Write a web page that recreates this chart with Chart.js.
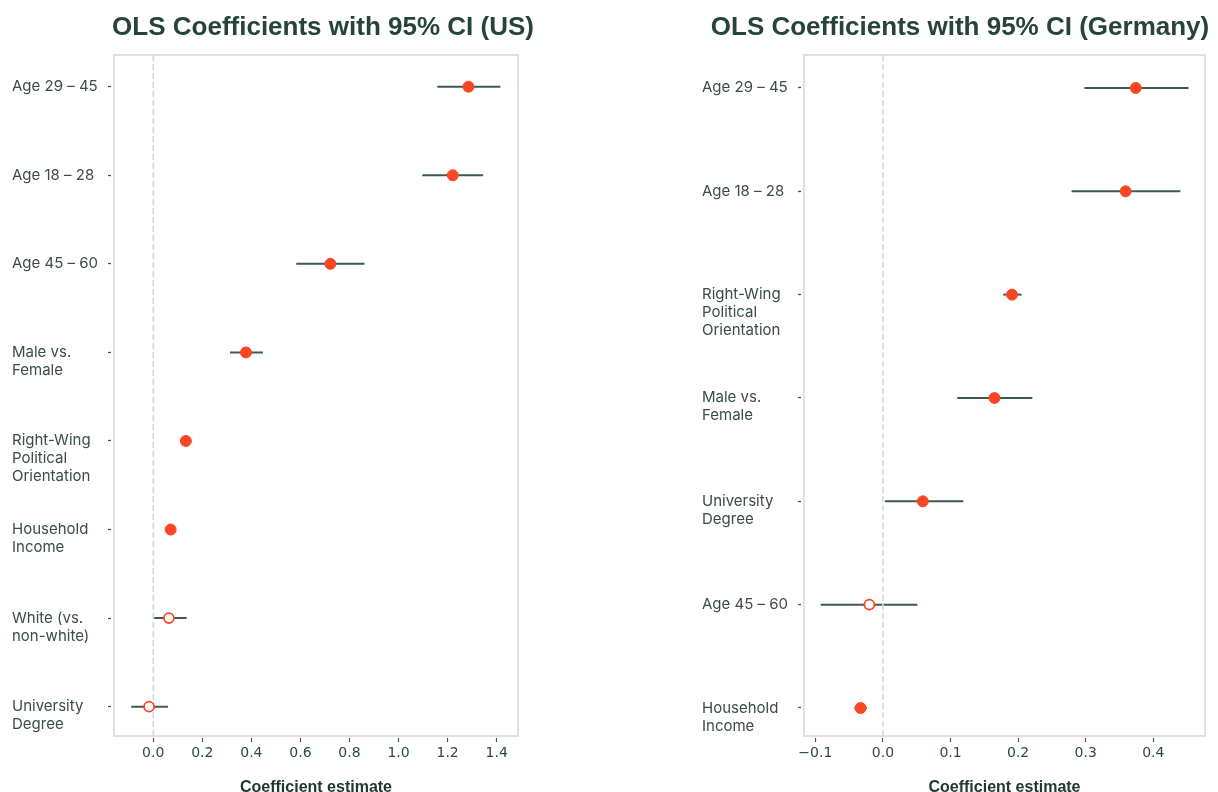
<!DOCTYPE html>
<html>
<head>
<meta charset="utf-8">
<script src="https://cdn.jsdelivr.net/npm/chart.js@4/dist/chart.umd.min.js"></script>
<style>
  html, body { margin: 0; padding: 0; background: #fff; overflow: hidden; }
  body { position: relative; width: 1218px; height: 792px; }
  canvas { position: absolute; top: 0; }
  .panel-title {
    position: absolute; top: 11px; z-index: 2;
    font: bold 26px/30px "Liberation Sans", Arial, sans-serif;
    color: #26443a; white-space: nowrap; transform: translateX(-50%);
  }
</style>
</head>
<body>
<div class="panel-title" style="left:323px">OLS Coefficients with 95% CI (US)</div>
<div class="panel-title" style="left:960px">OLS Coefficients with 95% CI (Germany)</div>
<canvas id="chart-us" width="609" height="792" style="left:0"></canvas>
<canvas id="chart-de" width="609" height="792" style="left:609px"></canvas>
<script>
// ---- United States ----
const usCategories = [
  'Age 29 – 45',
  'Age 18 – 28',
  'Age 45 – 60',
  'Male vs.\nFemale',
  'Right-Wing\nPolitical\nOrientation',
  'Household\nIncome',
  'White (vs.\nnon-white)',
  'University\nDegree'
];
const usCoef = [1.285, 1.221, 0.722, 0.378, 0.133, 0.071, 0.064, -0.017];
const usLow  = [1.158, 1.097, 0.583, 0.313, 0.118, 0.058, 0.004, -0.090];
const usHigh = [1.415, 1.345, 0.861, 0.447, 0.150, 0.085, 0.136, 0.060];
const usSignificant = [true, true, true, true, true, true, false, false];
const usTicks = [0, 0.2, 0.4, 0.6, 0.8, 1.0, 1.2, 1.4];

// ---- Germany ----
const deCategories = [
  'Age 29 – 45',
  'Age 18 – 28',
  'Right-Wing\nPolitical\nOrientation',
  'Male vs.\nFemale',
  'University\nDegree',
  'Age 45 – 60',
  'Household\nIncome'
];
const deCoef = [0.374, 0.359, 0.191, 0.165, 0.059, -0.020, -0.033];
const deLow  = [0.298, 0.279, 0.178, 0.110, 0.003, -0.092, -0.042];
const deHigh = [0.452, 0.440, 0.205, 0.221, 0.119, 0.051, -0.024];
const deSignificant = [true, true, true, true, true, false, true];
const deTicks = [-0.1, 0, 0.1, 0.2, 0.3, 0.4];

// ---- styling ----
const POINT_COLOR = '#fb4624';
const CI_COLOR = '#3e5a4f';
const ZERO_COLOR = '#dcd8d8';
const FRAME_COLOR = '#e3dfdf';
const TICK_COLOR = '#4d4d4d';
const Y_LABEL_COLOR = '#3b4d45';
const X_LABEL_COLOR = '#2b4a3e';
const AXIS_TITLE_COLOR = '#22382f';

// y labels: first line sits on the tick, remaining lines hang below it
function labelLines(text) {
  const lines = text.split('\n');
  return Array(lines.length - 1).fill('').concat(lines);
}

function fmtTick(v) {
  const s = Math.abs(v) < 1e-9 ? '0.0' : v.toFixed(1);
  return s.replace('-', '\u2212');
}

// light box around the plotting area
const framePlugin = {
  id: 'panelFrame',
  beforeDatasetsDraw(chart, args, opts) {
    const { ctx, chartArea: a } = chart;
    ctx.save();
    ctx.strokeStyle = opts.color;
    ctx.lineWidth = opts.width;
    ctx.strokeRect(a.left, a.top, a.right - a.left, a.bottom - a.top);
    ctx.restore();
  }
};

function buildPanel(id, cfg) {
  const { cats, coef, low, high, sig, ticks, xMin, xMax, yMin, yMax, pad } = cfg;

  const points = {
    data: coef.map((v, i) => ({ x: v, y: i })),
    pointRadius: sig.map(s => (s ? 5.5 : 5)),
    pointBackgroundColor: sig.map(s => (s ? POINT_COLOR : '#ffffff')),
    pointBorderColor: POINT_COLOR,
    pointBorderWidth: sig.map(s => (s ? 1 : 1.8)),
    order: 0
  };

  const zeroLine = {
    data: [{ x: 0, y: yMin }, { x: 0, y: yMax }],
    showLine: true,
    borderColor: ZERO_COLOR,
    borderWidth: 1.6,
    borderDash: [6, 3],
    pointRadius: 0,
    order: 1
  };

  const intervals = cats.map((_, i) => ({
    data: [{ x: low[i], y: i }, { x: high[i], y: i }],
    showLine: true,
    borderColor: CI_COLOR,
    borderWidth: 2,
    pointRadius: 0,
    order: 2
  }));

  return new Chart(document.getElementById(id), {
    type: 'scatter',
    data: { datasets: [points, zeroLine, ...intervals] },
    plugins: [framePlugin],
    options: {
      responsive: false,
      animation: false,
      events: [],
      layout: { padding: pad },
      plugins: {
        legend: { display: false },
        tooltip: { enabled: false },
        panelFrame: { color: FRAME_COLOR, width: 2 }
      },
      scales: {
        x: {
          type: 'linear',
          min: xMin,
          max: xMax,
          afterBuildTicks: s => { s.ticks = ticks.map(v => ({ value: v })); },
          afterFit: s => { s.height = 56; },
          border: { display: false },
          grid: {
            drawOnChartArea: false,
            tickLength: 6,
            tickColor: TICK_COLOR,
            tickWidth: 1.2,
            tickBorderDash: [4, 10],
            tickBorderDashOffset: 12
          },
          ticks: {
            callback: v => fmtTick(v),
            font: { family: '"DejaVu Sans", sans-serif', size: 14 },
            color: X_LABEL_COLOR,
            padding: 3,
            maxRotation: 0,
            autoSkip: false
          },
          title: {
            display: true,
            text: 'Coefficient estimate',
            color: AXIS_TITLE_COLOR,
            font: { family: '"Liberation Sans", Arial, sans-serif', size: 16, weight: 'bold', lineHeight: 0.55 },
            padding: { top: 0, bottom: 0 }
          }
        },
        y: {
          type: 'linear',
          reverse: true,
          min: yMin,
          max: yMax,
          afterBuildTicks: s => { s.ticks = cats.map((_, i) => ({ value: i })); },
          afterFit: s => { s.width = 102; },
          border: { display: false },
          grid: {
            drawOnChartArea: false,
            tickLength: 6,
            tickColor: TICK_COLOR,
            tickWidth: 1.3,
            tickBorderDash: [3, 10]
          },
          ticks: {
            callback: v => labelLines(cats[v]),
            font: { family: 'Inter, "Open Sans", sans-serif', size: 15, lineHeight: '18px' },
            color: Y_LABEL_COLOR,
            crossAlign: 'far',
            padding: 0,
            autoSkip: false
          }
        }
      }
    }
  });
}

buildPanel('chart-us', {
  cats: usCategories, coef: usCoef, low: usLow, high: usHigh, sig: usSignificant,
  ticks: usTicks, xMin: -0.160, xMax: 1.487, yMin: -0.358, yMax: 7.331,
  pad: { left: 12, right: 91, top: 55, bottom: 0 }
});

buildPanel('chart-de', {
  cats: deCategories, coef: deCoef, low: deLow, high: deHigh, sig: deSignificant,
  ticks: deTicks, xMin: -0.1167, xMax: 0.4764, yMin: -0.319, yMax: 6.271,
  pad: { left: 93, right: 13, top: 55, bottom: 0 }
});
</script>
</body>
</html>
